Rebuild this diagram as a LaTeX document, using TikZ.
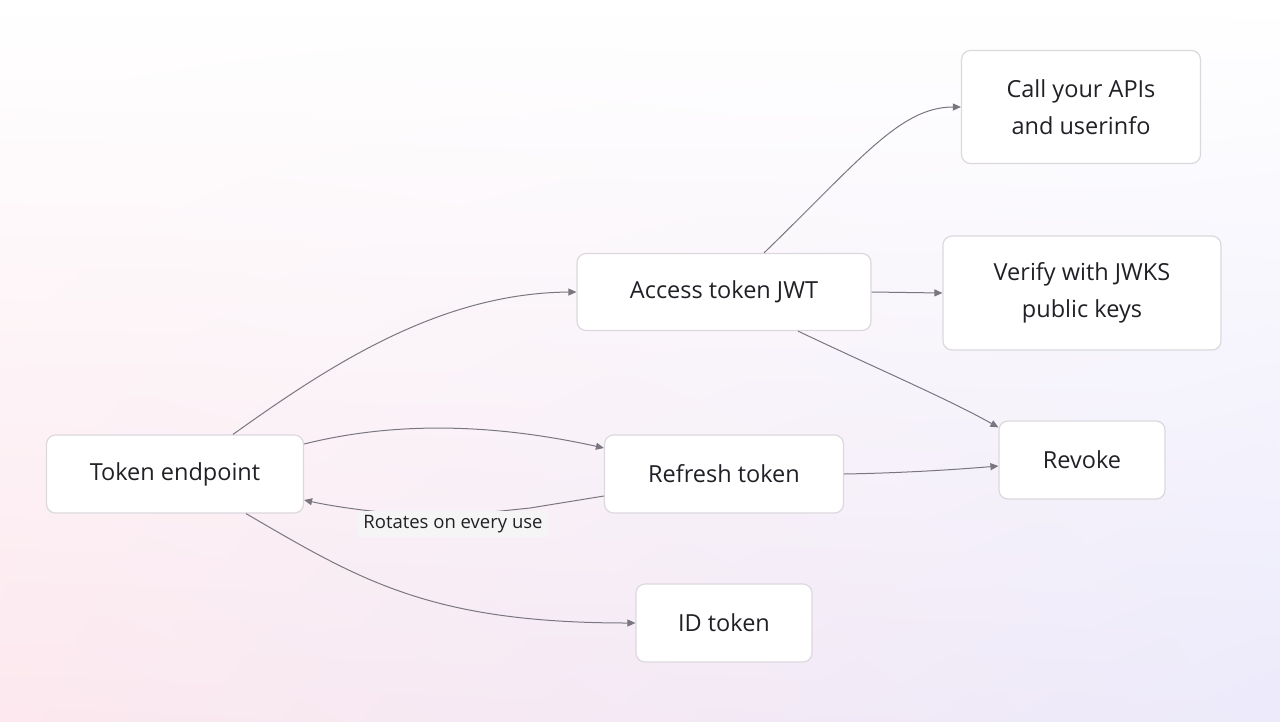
\documentclass[tikz,border=0pt]{standalone}
\usepackage{fontspec}
\setmainfont{Open Sans}
\usetikzlibrary{arrows.meta,shadings}
\definecolor{edge}{HTML}{7A7680}
\definecolor{bord}{HTML}{DCD8DE}
\definecolor{txt}{HTML}{222026}
\definecolor{pk}{HTML}{FCE8EE}
\definecolor{lv}{HTML}{ECEAFB}
\begin{document}
\begin{tikzpicture}[x=1pt,y=-1pt,
  box/.style={draw=bord,line width=1.2pt,rounded corners=9pt,fill=white,align=center,
    font=\fontsize{23.5}{37}\selectfont,text=txt,inner sep=0pt},
  con/.style={draw=edge,line width=1pt,-{Triangle[length=8pt,width=7pt]}},
  lab/.style={fill=black!4,font=\fontsize{18.5}{20}\selectfont,text=txt,inner xsep=5pt,inner ysep=4pt}]
\useasboundingbox (0,0) rectangle (1280,721);
\shade[upper left=white,upper right=white,lower left=pk,lower right=lv] (0,0) rectangle (1280,721);
\node[box,minimum width=257pt,minimum height=78pt] (tok) at (175,474) {Token endpoint};
\node[box,minimum width=294pt,minimum height=77pt] (acc) at (724,292) {Access token JWT};
\node[box,minimum width=239pt,minimum height=113pt] (call) at (1081,107) {Call your APIs\\and userinfo};
\node[box,minimum width=278pt,minimum height=114pt] (ver) at (1082,293) {Verify with JWKS\\public keys};
\node[box,minimum width=166pt,minimum height=78pt] (rev) at (1082,460) {Revoke};
\node[box,minimum width=239pt,minimum height=78pt] (ref) at (724,474) {Refresh token};
\node[box,minimum width=176pt,minimum height=78pt] (id) at (724,623) {ID token};
\draw[con] ([xshift=58pt]tok.north) .. controls (330,365) and (440,293) .. (acc.west);
\draw[con] ([yshift=30pt]tok.east) .. controls (400,420) and (500,425) .. ([yshift=26pt]ref.west);
\draw[con] ([yshift=-22pt]ref.west) -- (530,508) -- (453,516) .. controls (400,516) and (340,508) .. ([yshift=-26pt]tok.east);
\node[lab] (l) at (453,524) {Rotates on every use};
\draw[con] ([xshift=71pt]tok.south) .. controls (360,580) and (430,623) .. (id.west);
\draw[con] ([xshift=40pt]acc.north) .. controls (860,160) and (900,107) .. (call.west);
\draw[con] (acc.east) -- (ver.west);
\draw[con] ([xshift=74pt]acc.south) .. controls (880,370) and (950,400) .. ([yshift=-7pt]rev.north west);
\draw[con] (ref.east) .. controls (900,473) and (950,470) .. ([yshift=-6pt]rev.west);
\end{tikzpicture}
\end{document}
